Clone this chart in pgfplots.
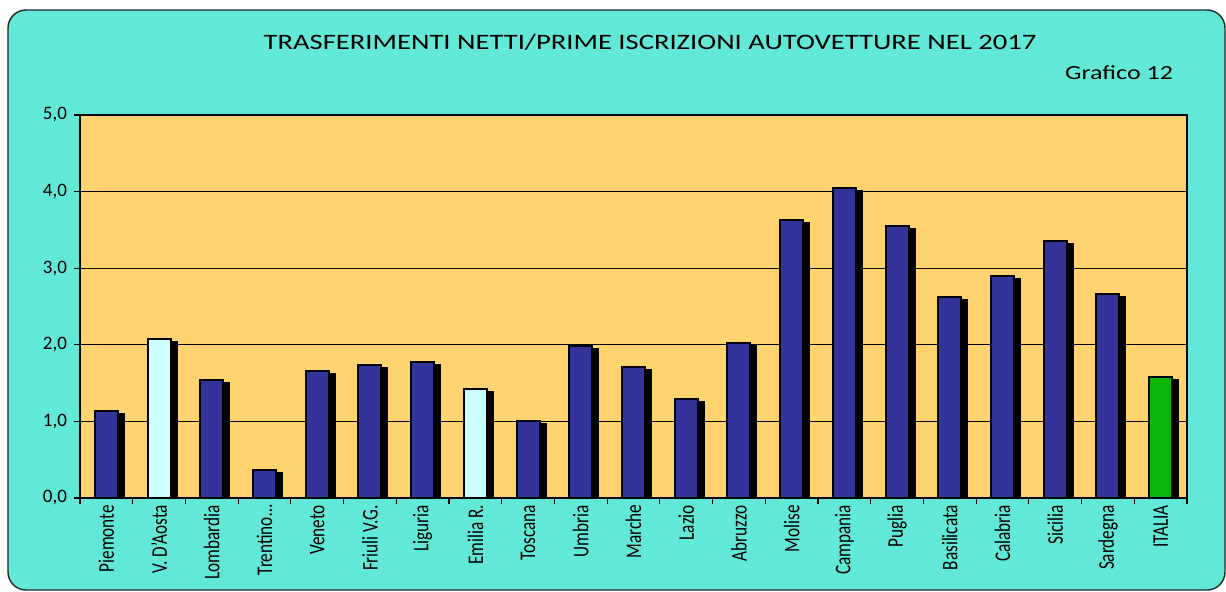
\documentclass[border=0pt]{standalone}
\usepackage{fontspec}
\setmainfont{Carlito}
\usepackage{graphicx}
\usepackage{pgfplots}
\usepackage{pgfplotstable}
\pgfplotsset{compat=1.18}
\usetikzlibrary{shadows}

\definecolor{bgcyan}{HTML}{62E8D7}
\definecolor{plotbg}{HTML}{FFD470}
\definecolor{barblue}{HTML}{333399}
\definecolor{barlight}{HTML}{CCFFFF}
\definecolor{bargreen}{HTML}{0AB40A}

\newcommand{\lab}[1]{\scalebox{1}[1.3]{#1}}

% regioni (blu)
\pgfplotstableread{
x v
0 1.14
2 1.54
3 0.36
4 1.66
5 1.73
6 1.77
8 1.01
9 1.98
10 1.71
11 1.29
12 2.02
13 3.63
14 4.05
15 3.55
16 2.62
17 2.90
18 3.35
19 2.66
}\regioni
% regioni evidenziate
\pgfplotstableread{
x v
1 2.08
7 1.42
}\evid
% totale
\pgfplotstableread{
x v
20 1.58
}\italia

\tikzset{barra/.style={draw=black, line width=1pt,
  drop shadow={shadow xshift=3pt, shadow yshift=-1.5pt, opacity=1, fill=black}}}

\begin{document}
\begin{tikzpicture}
\path[use as bounding box] (-40pt,-46.5pt) rectangle (573pt,249pt);
\draw[fill=bgcyan, draw=black!85, line width=0.7pt, rounded corners=9pt]
  (-36pt,-46pt) rectangle (572.5pt,244pt);
\begin{axis}[
  at={(0,0)}, anchor=south west,
  scale only axis, width=553.5pt, height=191.5pt,
  xmin=-0.5, xmax=20.5, ymin=0, ymax=5,
  axis background/.style={fill=plotbg},
  axis line style={black, line width=0.6pt},
  ytick={0,1,...,5},
  ymajorgrids, grid style={black, line width=0.5pt},
  /pgf/number format/.cd, fixed, fixed zerofill, precision=1, use comma,
  assume math mode=true, /pgfplots/.cd,
  yticklabel style={font=\fontsize{9.5}{11}\selectfont},
  xtick={-0.5,0.5,...,20.5}, xticklabels={},
  extra x ticks={0,...,20},
  extra x tick labels={\lab{Piemonte},\lab{V. D'Aosta},\lab{Lombardia},\lab{Trentino\ldots},
    \lab{Veneto},\lab{Friuli V.G.},\lab{Liguria},\lab{Emilia R.},\lab{Toscana},\lab{Umbria},
    \lab{Marche},\lab{Lazio},\lab{Abruzzo},\lab{Molise},\lab{Campania},\lab{Puglia},
    \lab{Basilicata},\lab{Calabria},\lab{Sicilia},\lab{Sardegna},\lab{ITALIA}},
  extra x tick style={major tick length=0pt},
  xticklabel style={rotate=90, anchor=east, font=\fontsize{8.6}{10}\selectfont},
  tick align=outside, tick pos=left, major tick length=3pt,
  tick style={black, line width=0.6pt},
  ybar, bar width=11.5pt, bar shift=0pt,
]
\addplot[barra, fill=barblue] table[x=x, y=v] {\regioni};
\addplot[barra, fill=barlight] table[x=x, y=v] {\evid};
\addplot[barra, fill=bargreen] table[x=x, y=v] {\italia};
\end{axis}
\node at (285pt,228pt) {\fontsize{11}{13}\selectfont\scalebox{1.3}[1]{TRASFERIMENTI NETTI/PRIME ISCRIZIONI AUTOVETTURE NEL 2017}};
\node[anchor=east] at (550pt,212.5pt) {\fontsize{10}{12}\selectfont\scalebox{1.3}[1]{Grafico 12}};
\end{tikzpicture}
\end{document}
